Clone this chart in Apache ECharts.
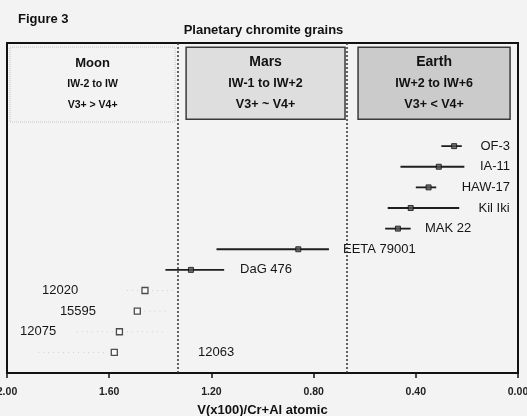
<!DOCTYPE html>
<html>
<head>
<meta charset="utf-8">
<script src="https://cdn.jsdelivr.net/npm/echarts@6/dist/echarts.min.js"></script>
<style>
  html, body { margin: 0; padding: 0; background: #f3f3f3; }
  #chart { width: 527px; height: 416px; }
</style>
</head>
<body>
<div id="chart"></div>
<script>
// Chromite grains: V(x100)/(Cr+Al) atomic ratio, mean and range per sample
const samples   = ['OF-3', 'IA-11', 'HAW-17', 'Kil Iki', 'MAK 22', 'EETA 79001', 'DaG 476', '12020', '15595', '12075', '12063'];
const body      = ['Earth', 'Earth', 'Earth', 'Earth', 'Earth', 'Mars', 'Mars', 'Moon', 'Moon', 'Moon', 'Moon'];
const ratio     = [0.25, 0.31, 0.35, 0.42, 0.47, 0.86, 1.28, 1.46, 1.49, 1.56, 1.58];
const rangeLow  = [0.22, 0.21, 0.32, 0.23, 0.42, 0.74, 1.15, 1.35, 1.38, 1.39, 1.62];
const rangeHigh = [0.30, 0.46, 0.40, 0.51, 0.52, 1.18, 1.38, 1.54, 1.51, 1.73, 1.88];
const row       = [11, 10, 9, 8, 7, 6, 5, 4, 3, 2, 1];

// Where each sample name sits along the axis, and which side it hangs from
const labelAt    = [0.031, 0.031, 0.031, 0.033, 0.364, 0.685, 1.088, 1.863, 1.793, 1.949, 1.252];
const labelAlign = ['right', 'right', 'right', 'right', 'left', 'left', 'left', 'left', 'left', 'left', 'left'];

// Planetary panels: oxygen fugacity and vanadium valence
const panelNames   = ['Moon', 'Mars', 'Earth'];
const panelFO2     = ['IW-2 to IW', 'IW-1 to IW+2', 'IW+2 to IW+6'];
const panelValence = ['V3+ > V4+', 'V3+ ~ V4+', 'V3+ < V4+'];
const panelFrom    = [1.988, 1.299, 0.626];
const panelTo      = [1.342, 0.677, 0.031];
const panelTop     = [15.8, 15.8, 15.8];
const panelBottom  = [12.17, 12.3, 12.3];
const panelFill    = ['rgba(0,0,0,0)', '#dedede', '#cbcbcb'];
const panelBorder  = ['#c4c4c4', '#3a3a3a', '#3a3a3a'];
const panelDash    = ['dotted', 'solid', 'solid'];
const panelHeadSize = [13, 14, 14];
const panelLineSize = [10.5, 12.5, 12.5];

// Boundaries between the panels
const boundaries = [1.333, 0.667];

const xTicks = { min: 0, max: 2, step: 0.4 };

const FONT = '"Liberation Sans", Arial, sans-serif';

const isMoon = (i) => body[i] === 'Moon';

const barData = samples.map((s, i) => [rangeLow[i], rangeHigh[i], row[i], isMoon(i) ? 1 : 0]);
const filledPts = [], openPts = [];
samples.forEach((s, i) => (isMoon(i) ? openPts : filledPts).push([ratio[i], row[i]]));
const labelData = samples.map((s, i) => [labelAt[i], row[i], s, labelAlign[i]]);

const markAreaData = panelNames.map((n, i) => [
  {
    xAxis: panelFrom[i], yAxis: panelTop[i],
    itemStyle: { color: panelFill[i], borderColor: panelBorder[i], borderWidth: i === 0 ? 1 : 1.5, borderType: panelDash[i] },
    label: {
      formatter: '{t|' + n + '}\n{l|' + panelFO2[i] + '}\n{l|' + panelValence[i] + '}',
      rich: {
        t: { fontFamily: FONT, fontSize: panelHeadSize[i], fontWeight: 'bold', color: '#111', lineHeight: 21 },
        l: { fontFamily: FONT, fontSize: panelLineSize[i], fontWeight: 'bold', color: '#111', lineHeight: 21 }
      }
    }
  },
  { xAxis: panelTo[i], yAxis: panelBottom[i] }
]);

const chart = echarts.init(document.getElementById('chart'), null, { renderer: 'canvas' });

chart.setOption({
  backgroundColor: '#f3f3f3',
  animation: false,
  title: [
    { text: 'Figure 3', left: 13, top: 8, textStyle: { fontFamily: FONT, fontSize: 13, fontWeight: 'bold', color: '#111' } },
    { text: 'Planetary chromite grains', left: 'center', top: 19, textStyle: { fontFamily: FONT, fontSize: 13, fontWeight: 'bold', color: '#111' } }
  ],
  grid: {
    left: 7, right: 9, top: 43, bottom: 43,
    containLabel: false,
    outerBoundsMode: 'none',
    show: true, borderColor: '#111', borderWidth: 2, backgroundColor: 'transparent'
  },
  xAxis: {
    type: 'value',
    inverse: true,
    min: xTicks.min, max: xTicks.max, interval: xTicks.step,
    name: 'V(x100)/Cr+Al atomic',
    nameLocation: 'middle',
    nameGap: 31,
    nameTextStyle: { fontFamily: FONT, fontSize: 13, fontWeight: 'bold', color: '#111' },
    axisLine: { show: true, lineStyle: { color: '#111', width: 2 } },
    axisTick: { show: true, inside: false, length: 5, lineStyle: { color: '#111', width: 1.5 } },
    axisLabel: {
      show: true, margin: 14, showMinLabel: true, showMaxLabel: true,
      fontFamily: FONT, fontSize: 10.5, fontWeight: 'bold', color: '#222',
      formatter: (v) => v.toFixed(2)
    },
    splitLine: { show: false }
  },
  yAxis: {
    type: 'value',
    min: 0, max: 16,
    axisLine: { show: true, lineStyle: { color: '#111', width: 2 } },
    axisTick: { show: false },
    axisLabel: { show: false },
    splitLine: { show: false }
  },
  series: [
    {
      // panel boxes and boundary lines
      type: 'scatter',
      data: [],
      silent: true,
      markArea: {
        silent: true,
        label: { show: true, position: 'inside' },
        data: markAreaData
      },
      markLine: {
        silent: true,
        symbol: 'none',
        label: { show: false },
        lineStyle: { color: '#333', width: 1.5, type: [2, 2] },
        data: boundaries.map((b) => ({ xAxis: b }))
      }
    },
    {
      // range bars
      type: 'custom',
      data: barData,
      encode: { x: [0, 1], y: 2 },
      renderItem: (params, api) => {
        const a = api.coord([api.value(0), api.value(2)]);
        const b = api.coord([api.value(1), api.value(2)]);
        const faint = api.value(3) === 1;
        return {
          type: 'line',
          shape: { x1: a[0], y1: a[1], x2: b[0], y2: b[1] },
          style: faint
            ? { stroke: '#cfcfcf', lineWidth: 1, lineDash: [1, 4] }
            : { stroke: '#1e1e1e', lineWidth: 1.8 }
        };
      },
      z: 2
    },
    {
      type: 'scatter',
      data: filledPts,
      symbol: 'rect',
      symbolSize: 5,
      itemStyle: { color: '#555', borderColor: '#111', borderWidth: 1 },
      z: 3
    },
    {
      type: 'scatter',
      data: openPts,
      symbol: 'rect',
      symbolSize: 6,
      itemStyle: { color: '#fbfbfb', borderColor: '#222', borderWidth: 1.3 },
      z: 3
    },
    {
      // sample names
      type: 'custom',
      data: labelData,
      encode: { x: 0, y: 1 },
      renderItem: (params, api) => {
        const p = api.coord([api.value(0), api.value(1)]);
        const d = labelData[params.dataIndex];
        return {
          type: 'text',
          x: p[0], y: p[1],
          style: {
            text: d[2],
            align: d[3],
            verticalAlign: 'middle',
            font: 'normal 13px ' + FONT,
            fill: '#151515'
          }
        };
      },
      z: 4
    }
  ]
});
</script>
</body>
</html>
